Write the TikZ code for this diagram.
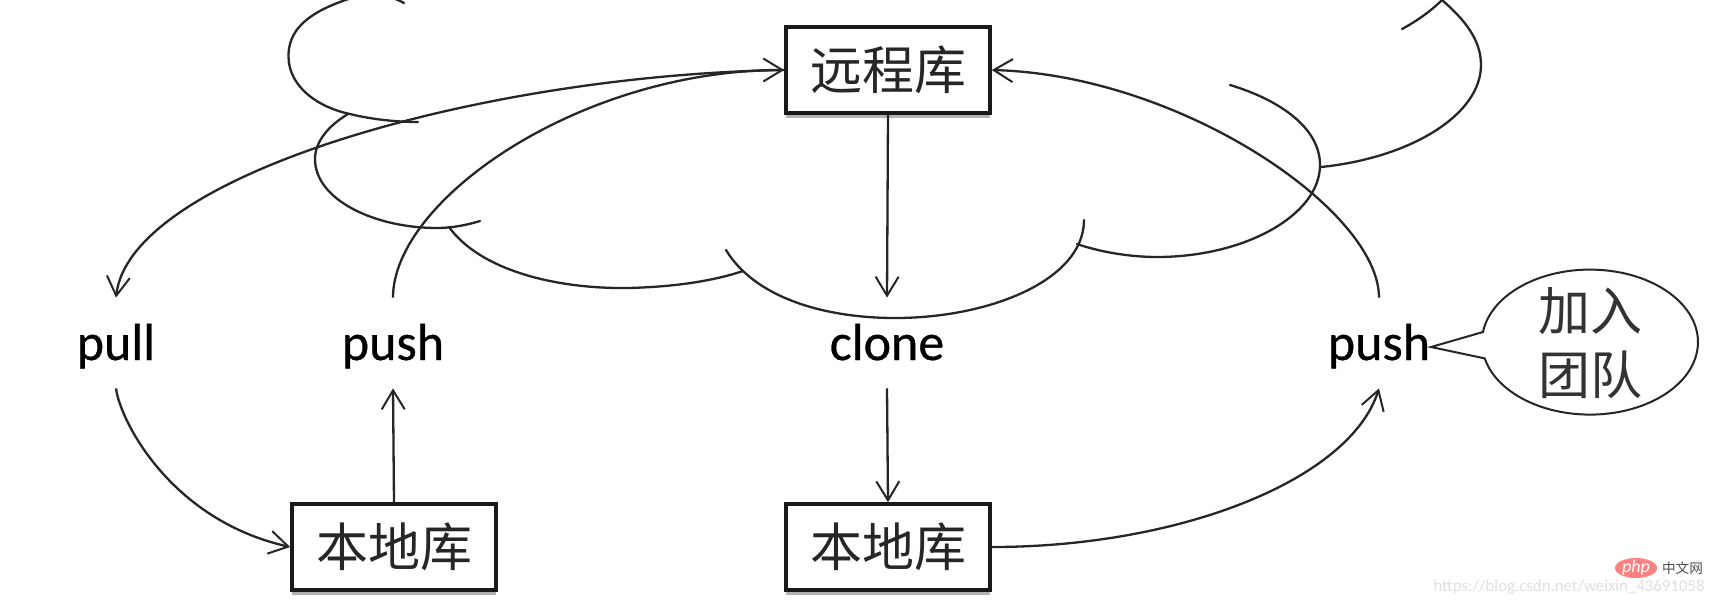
\documentclass[tikz,border=0pt]{standalone}
\usepackage{fontspec}
\setmainfont{Carlito}
\newfontfamily\cjk{Noto Sans CJK SC}
\newfontfamily\cmdfont[FakeBold=0.6]{Carlito}
\usetikzlibrary{arrows.meta,shadows,shapes.geometric}
\tikzset{
  x=0.5pt,y=-0.5pt,
  line/.style={line width=1.15pt,draw=black!85},
  conn/.style={line,-{Straight Barb[length=9.5pt,width=11.5pt,line width=1pt]}},
  libbox/.style={draw=black!90,line width=1.8pt,fill=white,minimum width=102pt,minimum height=43pt,inner sep=0pt,
    font=\cjk\fontsize{26}{30}\selectfont,text=black!85,
    drop shadow={shadow xshift=0pt,shadow yshift=-2.5pt,opacity=.3,fill=black}},
  cmd/.style={minimum height=45pt,minimum width=52pt,inner sep=0pt,text height=18pt,text depth=1pt,
    font=\cmdfont\fontsize{26}{30}\selectfont,text=black},
  cloudarc/.style={line width=1.15pt,draw=black!85,line cap=round},
}
\begin{document}
\begin{tikzpicture}
\useasboundingbox (0,0) rectangle (1714,601);
\fill[white] (0,0) rectangle (1714,601);
% cloud
\begin{scope}
\clip (0,0) rectangle (1714,601);
\draw[cloudarc] (404,3) .. controls (385,-8) and (360,-6) .. (340,2) .. controls (305,15) and (288,32) .. (288.5,57) .. controls (289,88) and (320,108) .. (350,114) .. controls (370,119) and (395,122) .. (418,122);
\draw[cloudarc] (348,114) .. controls (328,126) and (315,142) .. (315,159) .. controls (315,200) and (375,228) .. (437,228) .. controls (452,228) and (467,225) .. (480,221);
\draw[cloudarc] (449,227) .. controls (480,270) and (555,289) .. (628,288) .. controls (670,287) and (710,282) .. (743,271);
\draw[cloudarc] (726,250) .. controls (755,298) and (825,318) .. (895,318) .. controls (990,318) and (1084,280) .. (1084,220);
\draw[cloudarc] (1077,244) .. controls (1100,252) and (1130,257) .. (1157,257) .. controls (1245,257) and (1320,215) .. (1320,165) .. controls (1320,128) and (1280,100) .. (1230,85);
\draw[cloudarc] (1321,167) .. controls (1410,158) and (1481,115) .. (1481,65) .. controls (1481,40) and (1465,20) .. (1442,0);
\draw[cloudarc] (1402,29) .. controls (1415,22) and (1430,12) .. (1442,0);
\end{scope}
% nodes
\node[libbox] (remote) at (888,70) {远程库};
\node[libbox] (localA) at (394,547) {本地库};
\node[libbox] (localB) at (888,547) {本地库};
\node[cmd] (pull) at (116,343) {pull};
\node[cmd] (pushA) at (393,343) {push};
\node[cmd] (clone) at (887,343) {clone};
\node[cmd] (pushB) at (1379,343) {push};
% connectors
\draw[conn] (remote.south) -- (clone.north);
\draw[conn] (clone.south) -- (localB.north);
\draw[conn] (localA.north) -- (pushA.south);
\draw[conn] (remote.west) .. controls (480,75) and (130,175) .. (pull.north);
\draw[conn] (pull.south) .. controls (120,420) and (170,520) .. (localA.west);
\draw[conn] (pushA.north) .. controls (393,200) and (580,70) .. (remote.west);
\draw[conn] (pushB.north) .. controls (1379,210) and (1180,75) .. (remote.east);
\draw[conn] (localB.east) .. controls (1180,547) and (1350,480) .. (pushB.south);
% callout
\coordinate (tip) at (1431,347);
\draw[line,line width=1pt] (tip) -- (1483,332) arc[start angle=-172,delta angle=339,x radius=108,y radius=72.5] -- cycle;
\node[font=\cjk\fontsize{26}{30}\selectfont,text=black!80,align=center,inner sep=0pt] (join) at (1590,343) {加入\\[2pt]团队};
% watermark
\node[ellipse,fill=red!50!white,text=white,font=\itshape\fontsize{9}{10}\selectfont,inner sep=0pt,minimum width=21pt,minimum height=10pt] (phplogo) at (1636,568) {\smash{\raisebox{-2pt}{php}}};
\node[font=\cjk\fontsize{6.8}{8}\selectfont,text=black!70,inner sep=0pt] (phpcn) at (1682.5,568) {中文网};
\node[font=\fontsize{8.4}{10}\selectfont,text=black!12,inner sep=0pt,anchor=east] (url) at (1705,587) {https://blog.csdn.net/weixin\_43691058};
\end{tikzpicture}
\end{document}
